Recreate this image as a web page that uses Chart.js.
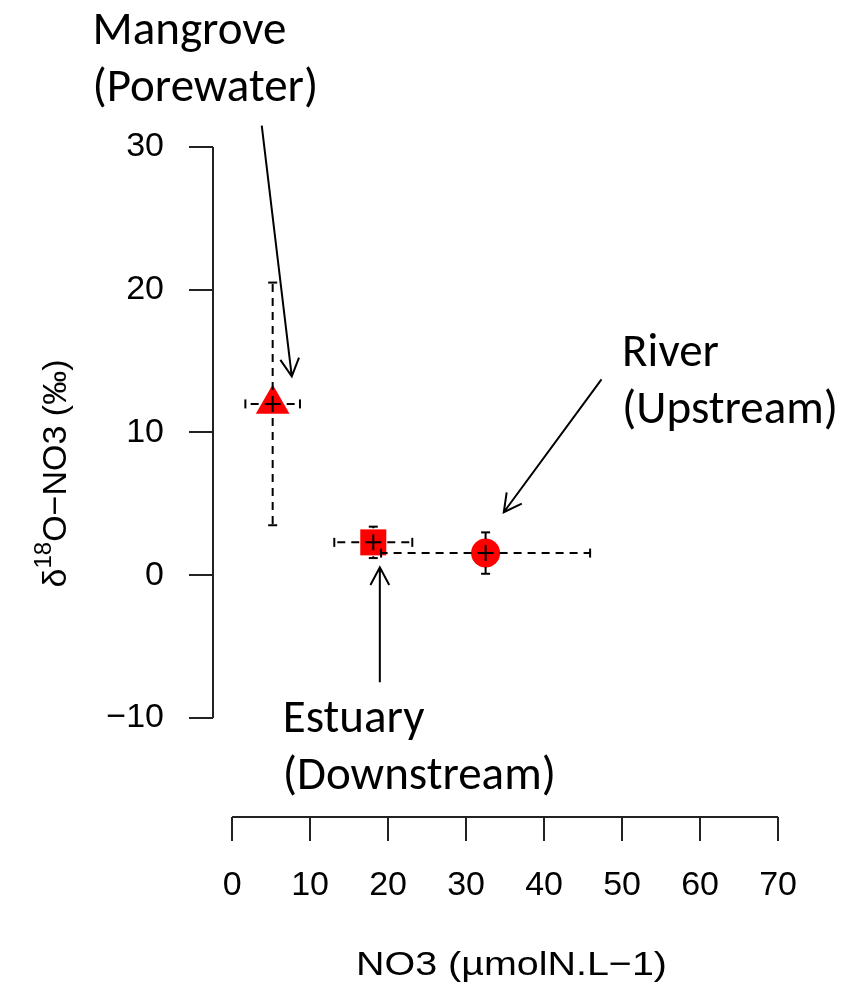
<!DOCTYPE html>
<html>
<head>
<meta charset="utf-8">
<script src="https://cdn.jsdelivr.net/npm/chart.js@4.4.1/dist/chart.umd.min.js"></script>
<style>
  html, body { margin: 0; padding: 0; background: #fff; }
  #wrap { width: 856px; height: 990px; position: relative; }
</style>
</head>
<body>
<div id="wrap"><canvas id="chart"></canvas></div>
<script>
// Sampling sites
const sites = ['Mangrove (Porewater)', 'Estuary (Downstream)', 'River (Upstream)'];
// NO3 concentration: mean and standard deviation (µmolN/L)
const no3Mean = [5.2, 18.1, 32.5];
const no3Sd = [3.5, 5.0, 13.4];
// δ18O of nitrate: mean and standard deviation (‰)
const d18oMean = [12.0, 2.3, 1.55];
const d18oSd = [8.5, 1.1, 1.45];
// Axis ticks
const xTicks = [0, 10, 20, 30, 40, 50, 60, 70];
const yTicks = [-10, 0, 10, 20, 30];

// Marker look per site
const markerShapes = ['triangle', 'rect', 'circle'];
const markerRadius = [19.5, 18.4, 14.5];

// Callout labels with arrows, placed in data units
const callouts = [
  { lines: ['Mangrove', '(Porewater)'], at: [-17.9, 37.2], from: [3.8, 31.5], to: [7.65, 13.93] },
  { lines: ['River', '(Upstream)'], at: [50.0, 14.63], from: [47.36, 13.72], to: [34.83, 4.41] },
  { lines: ['Estuary', '(Downstream)'], at: [6.5, -11.0], from: [18.94, -7.5], to: [18.94, 0.55] }
];

const AXIS_FONT = { family: "'Liberation Sans', Arial, sans-serif", size: 34 };
const NOTE_FONT = "47px Carlito, Calibri, 'Open Sans', sans-serif";
const INK = '#000';
const AXIS_INK = '#222';

const minus = v => String(v).replace('-', '\u2212');

// R-style axis lines that run only between the first and last ticks
const axisLines = {
  id: 'axisLines',
  afterDraw(chart) {
    const { ctx, scales: { x, y }, chartArea } = chart;
    ctx.save();
    ctx.strokeStyle = AXIS_INK;
    ctx.lineWidth = 2;
    ctx.beginPath();
    ctx.moveTo(chartArea.left, y.getPixelForValue(yTicks[0]));
    ctx.lineTo(chartArea.left, y.getPixelForValue(yTicks[yTicks.length - 1]));
    ctx.moveTo(x.getPixelForValue(xTicks[0]), chartArea.bottom);
    ctx.lineTo(x.getPixelForValue(xTicks[xTicks.length - 1]), chartArea.bottom);
    ctx.stroke();
    ctx.restore();
  }
};

// Dashed ±SD bars in both directions with small solid end caps
const errorBars = {
  id: 'errorBars',
  afterDatasetsDraw(chart) {
    const { ctx, scales: { x, y } } = chart;
    ctx.save();
    ctx.strokeStyle = INK;
    ctx.lineWidth = 2;
    const cap = 4.5;
    no3Mean.forEach((m, i) => {
      const cx = x.getPixelForValue(m);
      const cy = y.getPixelForValue(d18oMean[i]);
      const ends = [
        [x.getPixelForValue(m - no3Sd[i]), cy, 'h'],
        [x.getPixelForValue(m + no3Sd[i]), cy, 'h'],
        [cx, y.getPixelForValue(d18oMean[i] + d18oSd[i]), 'v'],
        [cx, y.getPixelForValue(d18oMean[i] - d18oSd[i]), 'v']
      ];
      ends.forEach(([ex, ey, dir]) => {
        ctx.setLineDash([8, 6]);
        ctx.beginPath();
        ctx.moveTo(cx, cy);
        ctx.lineTo(ex, ey);
        ctx.stroke();
        ctx.setLineDash([]);
        ctx.beginPath();
        if (dir === 'h') { ctx.moveTo(ex, ey - cap); ctx.lineTo(ex, ey + cap); }
        else { ctx.moveTo(ex - cap, ey); ctx.lineTo(ex + cap, ey); }
        ctx.stroke();
      });
    });
    ctx.restore();
  }
};

// Axis titles (the y title carries a superscript)
const axisTitles = {
  id: 'axisTitles',
  afterDraw(chart) {
    const { ctx, chartArea } = chart;
    ctx.save();
    ctx.fillStyle = INK;
    ctx.textBaseline = 'alphabetic';
    const base = AXIS_FONT.size + "px " + AXIS_FONT.family;
    const sup = Math.round(AXIS_FONT.size * 0.7) + "px " + AXIS_FONT.family;

    // x title, set slightly wide
    ctx.save();
    ctx.font = base;
    ctx.textAlign = 'center';
    ctx.translate((chartArea.left + chartArea.right) / 2 + 5, 975);
    ctx.scale(1.16, 1);
    ctx.fillText('NO3 (\u00b5molN.L\u22121)', 0, 0);
    ctx.restore();

    // y title, rotated
    const parts = [['\u03b4', base, 0], ['18', sup, -15], ['O\u2212NO3 (\u2030)', base, 0]];
    let total = 0;
    parts.forEach(p => { ctx.font = p[1]; total += ctx.measureText(p[0]).width; });
    ctx.translate(66, (chartArea.top + chartArea.bottom) / 2 + 4);
    ctx.rotate(-Math.PI / 2);
    ctx.textAlign = 'left';
    let cx = -total / 2;
    parts.forEach(p => {
      ctx.font = p[1];
      ctx.fillText(p[0], cx, p[2]);
      cx += ctx.measureText(p[0]).width;
    });
    ctx.restore();
  }
};

// Callout text and open-headed arrows
const calloutPlugin = {
  id: 'callouts',
  afterDraw(chart) {
    const { ctx, scales: { x, y } } = chart;
    ctx.save();
    ctx.fillStyle = INK;
    ctx.strokeStyle = INK;
    ctx.lineWidth = 2;
    ctx.font = NOTE_FONT;
    ctx.textAlign = 'left';
    ctx.textBaseline = 'alphabetic';
    const lineStep = 57;
    const headLen = 20;
    const headAng = 28 * Math.PI / 180;
    callouts.forEach(c => {
      const tx = x.getPixelForValue(c.at[0]);
      const ty = y.getPixelForValue(c.at[1]);
      c.lines.forEach((t, k) => ctx.fillText(t, tx, ty + k * lineStep));

      const x0 = x.getPixelForValue(c.from[0]), y0 = y.getPixelForValue(c.from[1]);
      const x1 = x.getPixelForValue(c.to[0]), y1 = y.getPixelForValue(c.to[1]);
      const ang = Math.atan2(y0 - y1, x0 - x1);
      ctx.beginPath();
      ctx.moveTo(x0, y0);
      ctx.lineTo(x1, y1);
      ctx.moveTo(x1 + headLen * Math.cos(ang - headAng), y1 + headLen * Math.sin(ang - headAng));
      ctx.lineTo(x1, y1);
      ctx.lineTo(x1 + headLen * Math.cos(ang + headAng), y1 + headLen * Math.sin(ang + headAng));
      ctx.stroke();
    });
    ctx.restore();
  }
};

new Chart(document.getElementById('chart'), {
  type: 'scatter',
  data: {
    datasets: sites.map((s, i) => ({
      label: s,
      data: [{ x: no3Mean[i], y: d18oMean[i] }],
      pointStyle: markerShapes[i],
      pointRadius: markerRadius[i],
      pointHoverRadius: markerRadius[i],
      backgroundColor: '#ff0000',
      borderColor: '#ff0000',
      borderWidth: 0
    }))
  },
  options: {
    responsive: true,
    maintainAspectRatio: false,
    animation: false,
    events: [],
    layout: { padding: { top: 122, right: 56, bottom: 0, left: 0 } },
    plugins: { legend: { display: false }, tooltip: { enabled: false } },
    scales: {
      x: {
        type: 'linear',
        min: -2.45,
        max: 72.81,
        afterBuildTicks: s => { s.ticks = xTicks.map(v => ({ value: v })); },
        afterFit: s => { s.height = 173; },
        border: { display: false },
        grid: { drawOnChartArea: false, drawTicks: true, tickLength: 24, color: AXIS_INK, lineWidth: 2 },
        ticks: { font: AXIS_FONT, color: INK, padding: 24, maxRotation: 0, autoSkip: false, callback: v => minus(v) }
      },
      y: {
        type: 'linear',
        min: -16.94,
        max: 31.75,
        afterBuildTicks: s => { s.ticks = yTicks.map(v => ({ value: v })); },
        afterFit: s => { s.width = 213; },
        border: { display: false },
        grid: { drawOnChartArea: false, drawTicks: true, tickLength: 24, color: AXIS_INK, lineWidth: 2 },
        ticks: { font: AXIS_FONT, color: INK, padding: 25, autoSkip: false, callback: v => minus(v) }
      }
    }
  },
  plugins: [axisLines, errorBars, axisTitles, calloutPlugin]
});
</script>
</body>
</html>
